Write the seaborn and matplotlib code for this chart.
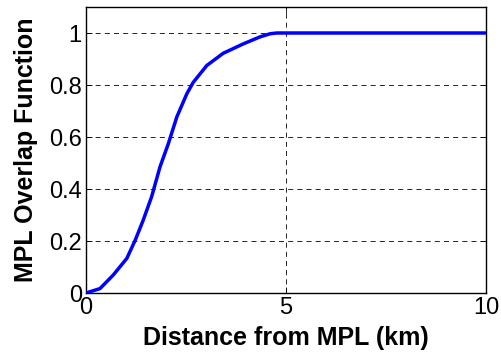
import numpy as np
import pandas as pd
import matplotlib
matplotlib.use("Agg")
import matplotlib.pyplot as plt
import seaborn as sns

distance_km = [0.0, 0.35, 0.68, 1.02, 1.23, 1.43, 1.64, 1.85, 2.06, 2.27, 2.52, 2.68,
               3.02, 3.43, 3.93, 4.35, 4.6, 4.77, 6.0, 8.0, 10.0]
overlap = [0.0, 0.017, 0.069, 0.133, 0.203, 0.28, 0.37, 0.485, 0.575, 0.677, 0.766, 0.81,
           0.875, 0.922, 0.958, 0.985, 0.997, 1.0, 1.0, 1.0, 1.0]
x_ticks = [0, 5, 10]
y_ticks = [0, 0.2, 0.4, 0.6, 0.8, 1]
y_tick_labels = ["0", "0.2", "0.4", "0.6", "0.8", "1"]

sns.set_theme(style="white")
plt.rcParams['font.family'] = ['Liberation Sans', 'DejaVu Sans']
plt.rcParams['text.color'] = 'black'
plt.rcParams['axes.labelcolor'] = 'black'

df = pd.DataFrame({"Distance from MPL (km)": distance_km, "MPL Overlap Function": overlap})

fig = plt.figure(figsize=(5.01, 3.56), dpi=100)
ax = fig.add_axes([86/501, 1-293/356, 400/501, 286/356])
sns.lineplot(data=df, x="Distance from MPL (km)", y="MPL Overlap Function",
             color=(0, 0, 1), linewidth=2.5, ax=ax, zorder=3)
ax.set_xlim(0, 10)
ax.set_ylim(0, 1.1)
ax.set_xticks(x_ticks)
ax.set_xticklabels([str(t) for t in x_ticks])
ax.set_yticks(y_ticks)
ax.set_yticklabels(y_tick_labels)
ax.tick_params(direction="in", length=4, width=0.6, colors="black", labelsize=17, pad=3,
               top=True, right=True, bottom=True, left=True)
ax.grid(True, color="black", linestyle=(0, (6, 5)), linewidth=0.6)
for s in ax.spines.values():
    s.set_color("black")
    s.set_linewidth(1.0)
ax.set_xlabel("Distance from MPL (km)", fontsize=18, fontweight="bold", labelpad=5)
ax.set_ylabel("MPL Overlap Function", fontsize=18, fontweight="bold", labelpad=8)
fig.savefig("out.png", dpi=100)
